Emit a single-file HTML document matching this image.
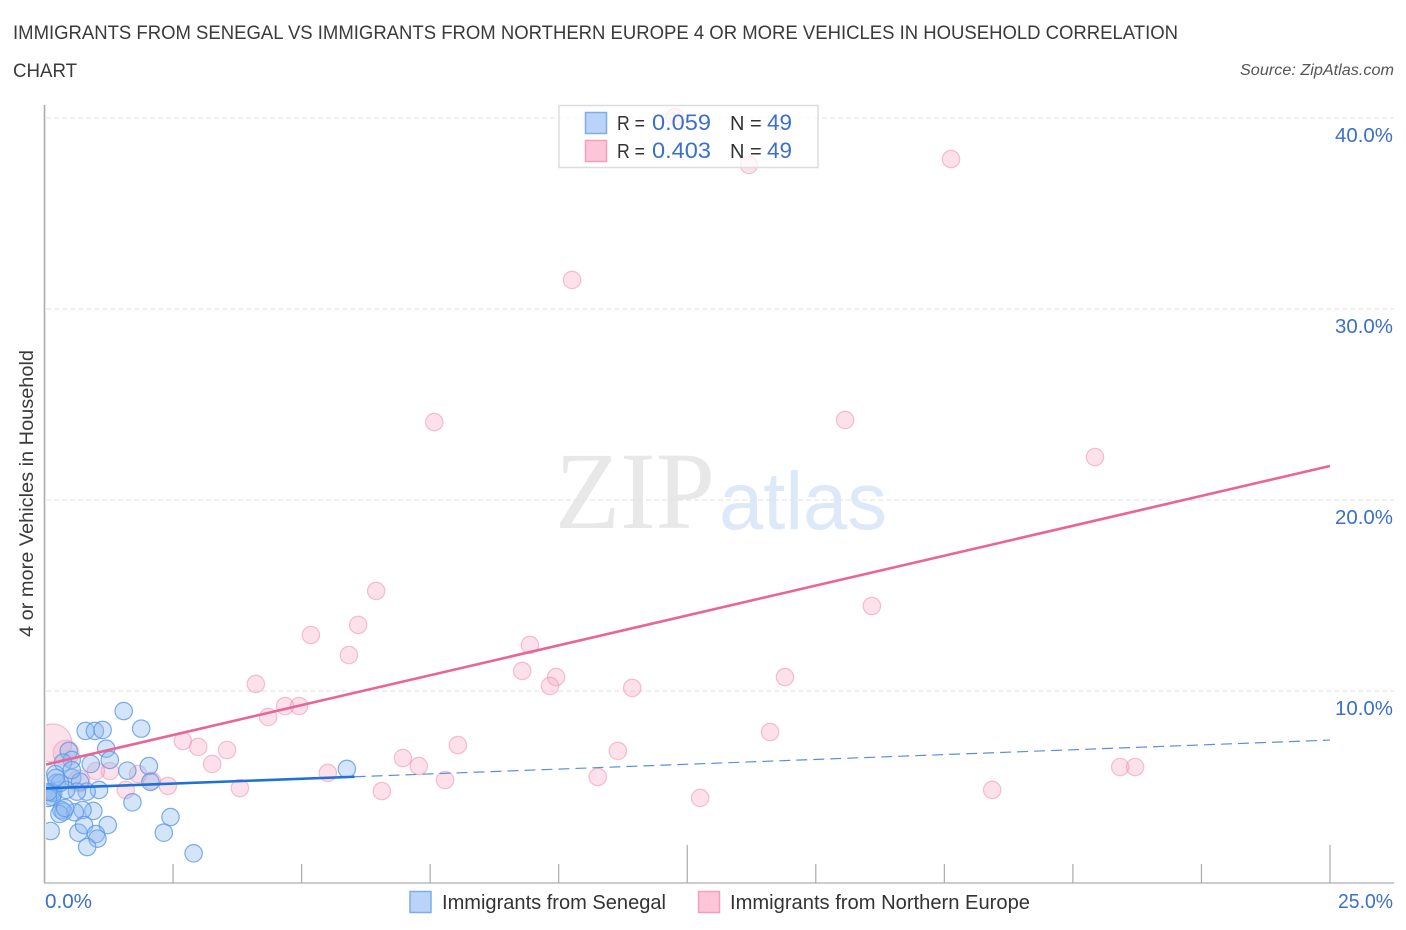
<!DOCTYPE html>
<html lang="en">
<head>
<meta charset="utf-8">
<title>Immigrants from Senegal vs Immigrants from Northern Europe Correlation Chart</title>
<style>
html,body{margin:0;padding:0;background:#fff;width:1406px;height:930px;overflow:hidden}
svg{display:block}
text{font-family:"Liberation Sans",sans-serif}
</style>
</head>
<body>
<svg id="chart" width="1406" height="930" viewBox="0 0 1406 930" xmlns="http://www.w3.org/2000/svg">
<text x="13" y="39" font-size="19.5" fill="#3a3a3a" textLength="1165" lengthAdjust="spacingAndGlyphs">IMMIGRANTS FROM SENEGAL VS IMMIGRANTS FROM NORTHERN EUROPE 4 OR MORE VEHICLES IN HOUSEHOLD CORRELATION</text>
<text x="13" y="77" font-size="19.5" fill="#3a3a3a" textLength="64" lengthAdjust="spacingAndGlyphs">CHART</text>
<text x="1394" y="75" font-size="15.5" font-style="italic" fill="#555" text-anchor="end" textLength="154" lengthAdjust="spacingAndGlyphs">Source: ZipAtlas.com</text>
<text x="555" y="528" font-size="110" fill="#e8e8e8" style="font-family:'Liberation Serif',serif" textLength="160" lengthAdjust="spacingAndGlyphs">ZIP</text>
<text x="719" y="529" font-size="82" fill="#dde9f8" textLength="168" lengthAdjust="spacingAndGlyphs">atlas</text>
<g id="grid"></g>
<g id="points"></g>
<rect x="25" y="100" width="21" height="783" fill="#fff"/>
<g id="axes"></g>
<g id="trends"></g>
<g>
<rect x="559" y="105.5" width="259" height="62" fill="#fff" fill-opacity="0.72" stroke="#ddd" stroke-width="1.5"/>
<rect x="585.5" y="112.5" width="21" height="21" fill="#b9d4f8" stroke="#7eaee8" stroke-width="1.5"/>
<rect x="585.5" y="140.5" width="21" height="21" fill="#fcc6d8" stroke="#f3a0bb" stroke-width="1.5"/>
<text x="617" y="130" font-size="20" fill="#333" textLength="28" lengthAdjust="spacingAndGlyphs">R =</text>
<text x="652" y="130" font-size="22" fill="#3b70c8" textLength="59" lengthAdjust="spacingAndGlyphs">0.059</text>
<text x="730" y="130" font-size="20" fill="#333">N =</text>
<text x="767" y="130" font-size="22" fill="#3b70c8" textLength="25" lengthAdjust="spacingAndGlyphs">49</text>
<text x="617" y="158" font-size="20" fill="#333" textLength="28" lengthAdjust="spacingAndGlyphs">R =</text>
<text x="652" y="158" font-size="22" fill="#3b70c8" textLength="59" lengthAdjust="spacingAndGlyphs">0.403</text>
<text x="730" y="158" font-size="20" fill="#333">N =</text>
<text x="767" y="158" font-size="22" fill="#3b70c8" textLength="25" lengthAdjust="spacingAndGlyphs">49</text>
</g>
<text transform="translate(33,493.5) rotate(-90)" font-size="19.5" fill="#3a3a3a" text-anchor="middle" textLength="287" lengthAdjust="spacingAndGlyphs">4 or more Vehicles in Household</text>
<g>
<rect x="410" y="891.5" width="21" height="21" fill="#b9d4f8" stroke="#7eaee8" stroke-width="1.5"/>
<text x="442" y="909" font-size="20" fill="#333" textLength="224" lengthAdjust="spacingAndGlyphs">Immigrants from Senegal</text>
<rect x="698.5" y="891.5" width="21" height="21" fill="#fcc6d8" stroke="#f3a0bb" stroke-width="1.5"/>
<text x="730" y="909" font-size="20" fill="#333" textLength="300" lengthAdjust="spacingAndGlyphs">Immigrants from Northern Europe</text>
</g>
</svg>
<script>
const yTickValues = [10, 20, 30, 40];
const yTickLabels = ["10.0%", "20.0%", "30.0%", "40.0%"];
const xTickValues = [2.5, 5, 7.5, 10, 12.5, 15, 17.5, 20, 22.5, 25];
const xTallTicks = [12.5, 25];
const xEndLabels = ["0.0%", "25.0%"];
const senegalX = [1.54,1.88,0.80,0.98,1.13,1.20,1.27,0.47,0.53,0.36,0.90,1.61,2.03,2.06,0.21,0.54,0.69,0.24,1.06,0.82,0.63,0.14,0.15,0.17,1.71,2.45,2.32,2.90,1.23,0.95,0.74,0.59,0.33,0.37,0.29,0.12,0.66,0.77,1.00,1.03,0.83,5.88,0.42,0.07,0.30,0.53,0.07,0.40,0.22];
const senegalY = [8.95,8.03,7.91,7.91,7.96,6.98,6.39,6.86,6.39,6.25,6.18,5.83,6.07,5.24,5.65,5.45,5.25,5.20,4.82,4.73,4.73,4.71,4.45,4.66,4.17,3.40,2.58,1.50,2.98,3.72,3.77,3.65,3.77,3.68,3.56,2.67,2.58,2.98,2.51,2.27,1.83,5.92,4.82,4.40,5.18,5.86,4.71,3.87,5.45];
const europeX = [12.26,13.70,17.63,10.26,7.58,15.57,20.43,6.45,16.09,6.10,5.18,5.92,9.44,9.29,9.95,9.83,11.43,14.40,4.11,4.35,4.68,4.95,14.11,2.69,2.99,3.55,3.26,8.04,6.97,7.28,11.15,5.51,7.79,3.80,6.56,10.76,12.75,18.43,20.92,21.21,2.40,2.09,1.82,1.58,1.27,1.00,0.67,0.42,0.16];
const europeY = [40.05,37.54,37.85,31.52,24.08,24.19,22.25,15.24,14.45,13.46,12.93,11.88,12.41,11.05,10.73,10.26,10.16,10.73,10.37,8.64,9.21,9.21,7.85,7.38,7.07,6.91,6.18,7.17,6.49,6.07,6.86,5.71,5.34,4.92,4.76,5.50,4.40,4.82,6.02,6.02,5.03,5.29,5.65,4.82,5.81,5.81,5.29,6.75,7.28];
const europeWeight = [1,1,1,1,1,1,1,1,1,1,1,1,1,1,1,1,1,1,1,1,1,1,1,1,1,1,1,1,1,1,1,1,1,1,1,1,1,1,1,1,1,1,1,1,1,1,1.6,2.2,4.8];
const senegalTrend = [4.9, 7.43];
const europeTrend = [6.13, 21.78];
const senegalSolidEnd = 6.03;
const xMax = 25;

const NS = 'http://www.w3.org/2000/svg';
const xScale = v => 44.5 + v * 51.42;
const yScale = v => 882 - v * 19.1;
const sizeScale = w => 8.7 * Math.sqrt(w);
const trendAt = (t, x) => t[0] + (t[1] - t[0]) * x / xMax;

function make(tag, attrs, parent, content) {
  const el = document.createElementNS(NS, tag);
  for (const k in attrs) el.setAttribute(k, attrs[k]);
  if (content !== undefined) el.textContent = content;
  parent.appendChild(el);
  return el;
}

const gridG = document.getElementById('grid');
const axesG = document.getElementById('axes');
const pointsG = document.getElementById('points');
const trendsG = document.getElementById('trends');

yTickValues.forEach((v, i) => {
  const line = make('line', {x1: 46, x2: 1394, y1: yScale(v), y2: yScale(v), stroke: '#e2e2e2', 'stroke-width': 1, 'stroke-dasharray': '5 3'}, gridG);
  
  
  const label = make('text', {x: 1393, y: yScale(v) + 24, 'font-size': 20, fill: '#3b70c8', 'text-anchor': 'end', textLength: 58, lengthAdjust: 'spacingAndGlyphs'}, axesG, yTickLabels[i]);
  
  
});

const yAxis = make('line', {x1: 44.5, x2: 44.5, y1: 105, y2: 883, stroke: '#aaa', 'stroke-width': 1.6}, axesG);


const xAxis = make('line', {x1: 44, x2: 1394, y1: 883, y2: 883, stroke: '#bbb', 'stroke-width': 1.6}, axesG);



xTickValues.forEach(v => {
  const tick = make('line', {x1: xScale(v), x2: xScale(v), y1: xTallTicks.includes(v) ? 845 : 864, y2: 883, stroke: '#aaa', 'stroke-width': 1.2}, axesG);
  
  
});

const x0Label = make('text', {x: 45, y: 908, 'font-size': 20, fill: '#3b70c8', textLength: 47, lengthAdjust: 'spacingAndGlyphs'}, axesG, xEndLabels[0]);


const x1Label = make('text', {x: 1393, y: 908, 'font-size': 20, fill: '#3b70c8', 'text-anchor': 'end', textLength: 55, lengthAdjust: 'spacingAndGlyphs'}, axesG, xEndLabels[1]);



europeX.forEach((x, i) => {
  const c = make('circle', {cx: xScale(x), cy: yScale(europeY[i]), r: sizeScale(europeWeight[i]), fill: '#f8a8c4', 'fill-opacity': 0.36, stroke: '#ee86aa', 'stroke-opacity': 0.5, 'stroke-width': 1.2}, pointsG);
  
  
});
senegalX.forEach((x, i) => {
  const c = make('circle', {cx: xScale(x), cy: yScale(senegalY[i]), r: sizeScale(1), fill: '#8fb9ef', 'fill-opacity': 0.38, stroke: '#5b9ae6', 'stroke-opacity': 0.8, 'stroke-width': 1.2}, pointsG);
  
  
});

const dashedTrend = make('line', {x1: xScale(senegalSolidEnd), y1: yScale(trendAt(senegalTrend, senegalSolidEnd)), x2: xScale(xMax), y2: yScale(senegalTrend[1]), stroke: '#5b8fdc', 'stroke-width': 1.2, 'stroke-dasharray': '11 6'}, trendsG);


const solidTrend = make('line', {x1: xScale(0.03), y1: yScale(trendAt(senegalTrend, 0.03)), x2: xScale(senegalSolidEnd), y2: yScale(trendAt(senegalTrend, senegalSolidEnd)), stroke: '#1f6fdc', 'stroke-width': 2.6}, trendsG);


const pinkTrend = make('line', {x1: xScale(0.03), y1: yScale(trendAt(europeTrend, 0.03)), x2: xScale(xMax), y2: yScale(europeTrend[1]), stroke: '#ea6496', 'stroke-width': 2.6}, trendsG);


</script>
</body>
</html>
